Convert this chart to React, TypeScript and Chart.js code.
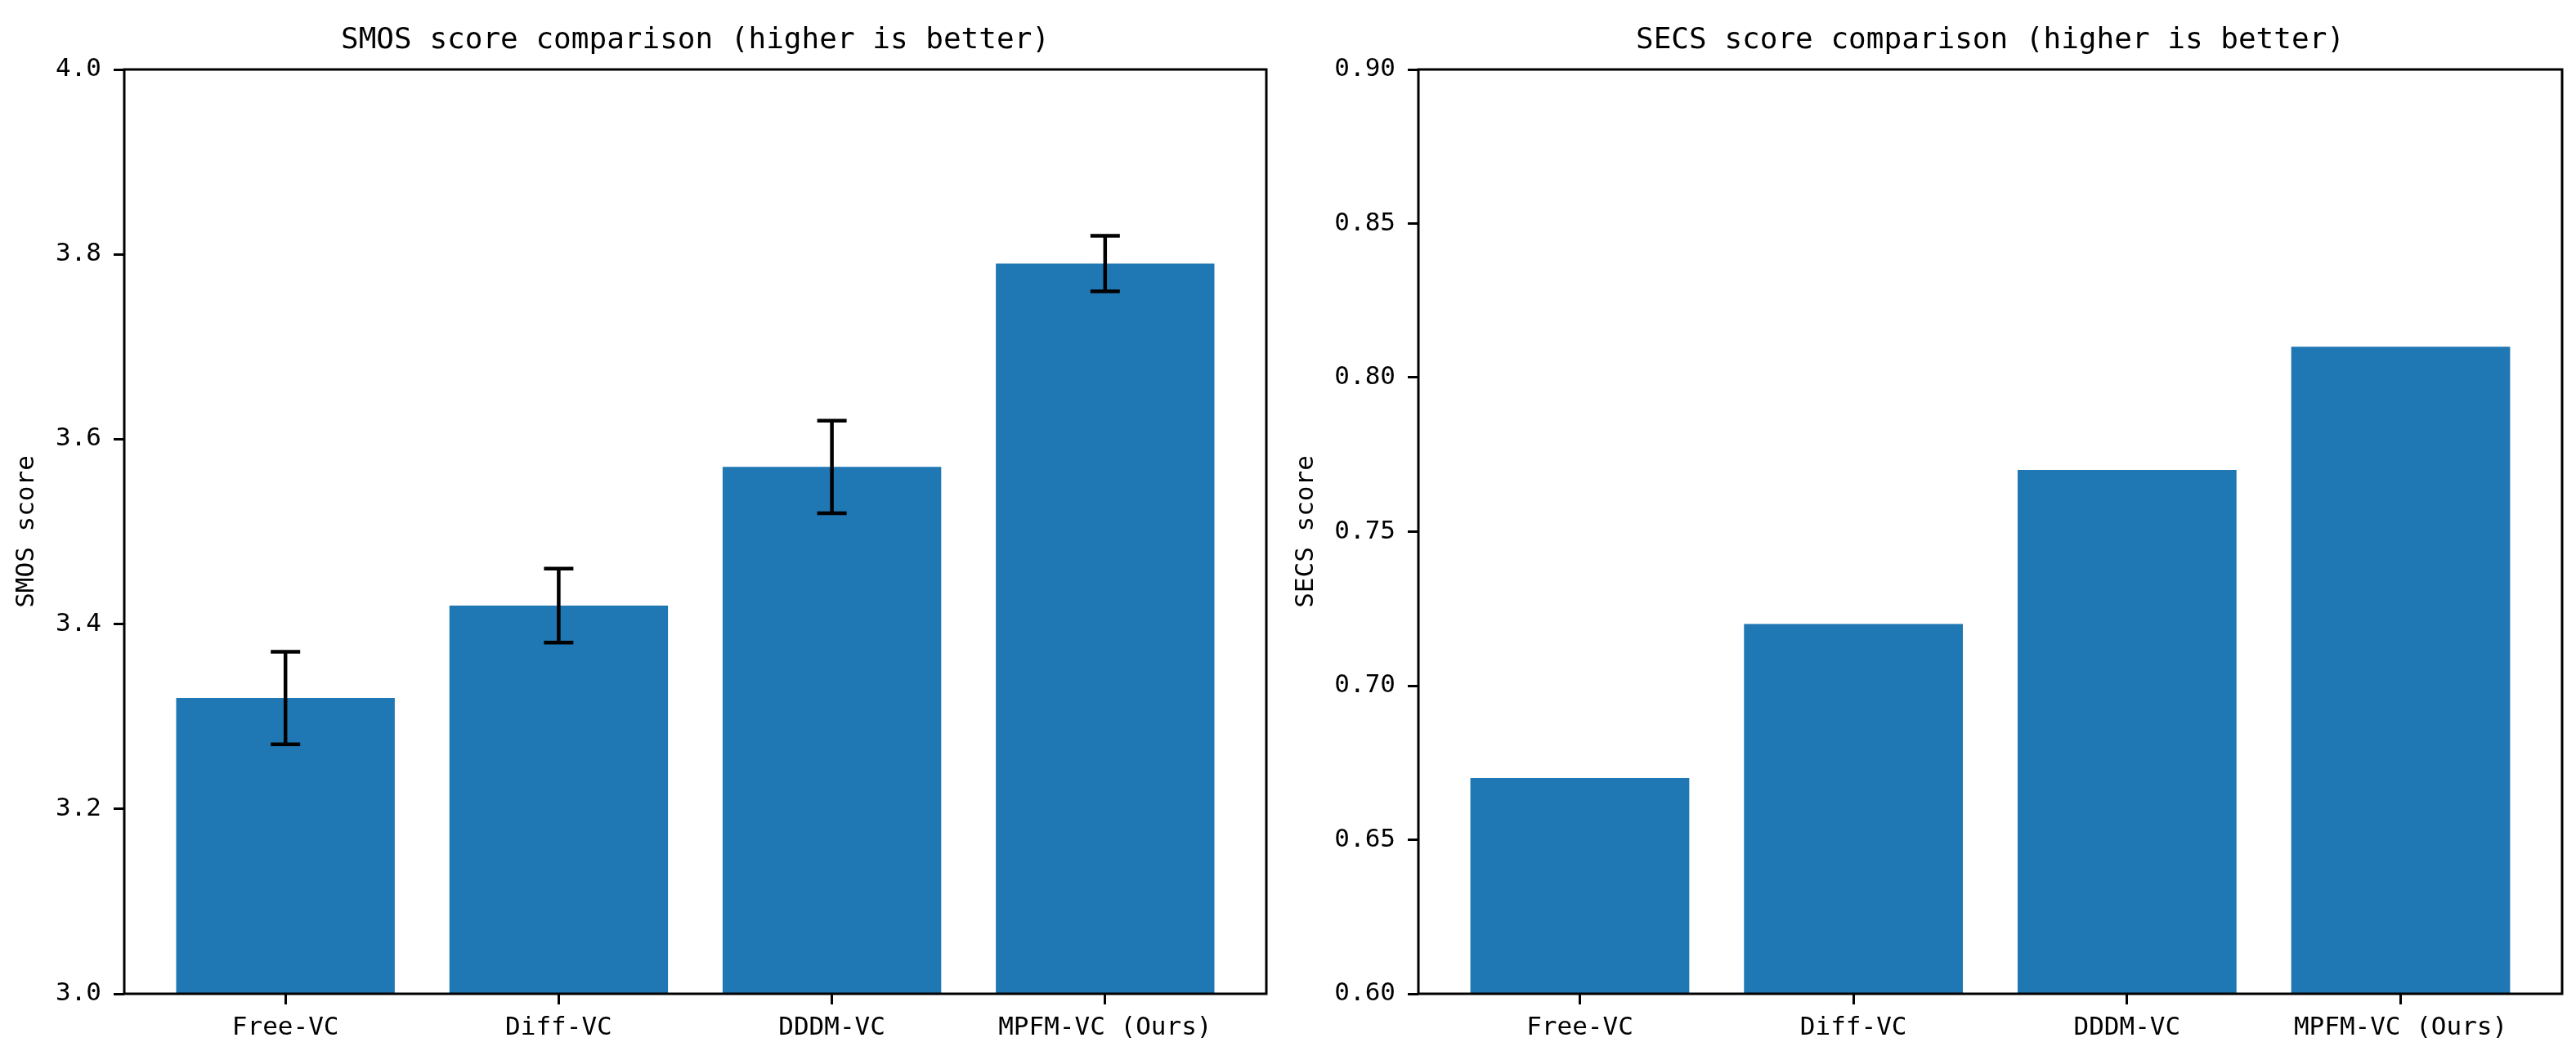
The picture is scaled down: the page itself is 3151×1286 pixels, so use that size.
import { useEffect, useRef } from 'react'
import { Chart, registerables } from 'chart.js'

Chart.register(...registerables)

const categories = ['Free-VC', 'Diff-VC', 'DDDM-VC', 'MPFM-VC (Ours)']
const smosScores = [3.32, 3.42, 3.57, 3.79]
const smosErrors = [0.05, 0.04, 0.05, 0.03]
const secsScores = [0.67, 0.72, 0.77, 0.81]
const smosTicks = [3.0, 3.2, 3.4, 3.6, 3.8, 4.0]
const secsTicks = [0.6, 0.65, 0.7, 0.75, 0.8, 0.85, 0.9]

const BLUE = '#1f77b4'
const FONT = "'DejaVu Sans Mono', monospace"

// title centred over the plot area, like matplotlib's ax.set_title
const panelTitle = {
  id: 'panelTitle',
  afterDraw(chart: any, _args: any, opts: any) {
    if (!opts || !opts.text) return
    const { ctx, chartArea } = chart
    ctx.save()
    ctx.fillStyle = '#000'
    ctx.font = `36px ${FONT}`
    ctx.textAlign = 'center'
    ctx.textBaseline = 'alphabetic'
    ctx.fillText(opts.text, (chartArea.left + chartArea.right) / 2, chartArea.top - 26)
    ctx.restore()
  },
}

// black box round the axes (all four spines)
const frame = {
  id: 'frame',
  afterDraw(chart: any) {
    const { ctx, chartArea: a } = chart
    ctx.save()
    ctx.strokeStyle = '#000'
    ctx.lineWidth = 3
    ctx.strokeRect(a.left, a.top, a.right - a.left, a.bottom - a.top)
    ctx.restore()
  },
}

const errorBars = {
  id: 'errorBars',
  afterDatasetsDraw(chart: any, _args: any, opts: any) {
    const errors: number[] | undefined = opts && opts.errors
    if (!errors) return
    const { ctx, scales } = chart
    const points = chart.data.datasets[0].data as { x: number; y: number }[]
    ctx.save()
    ctx.strokeStyle = '#000'
    ctx.lineWidth = 4.5
    points.forEach((p, i) => {
      const px = scales.x.getPixelForValue(p.x)
      const top = scales.y.getPixelForValue(p.y + errors[i])
      const bottom = scales.y.getPixelForValue(p.y - errors[i])
      ctx.beginPath()
      ctx.moveTo(px, top)
      ctx.lineTo(px, bottom)
      ctx.moveTo(px - 18, top)
      ctx.lineTo(px + 18, top)
      ctx.moveTo(px - 18, bottom)
      ctx.lineTo(px + 18, bottom)
      ctx.stroke()
    })
    ctx.restore()
  },
}

interface PanelProps {
  left: number
  width: number
  axisWidth: number
  rightPad: number
  labelPad: number
  title: string
  yTitle: string
  values: number[]
  errors?: number[]
  ticks: number[]
  decimals: number
}

function Panel({ left, width, axisWidth, rightPad, labelPad, title, yTitle, values, errors, ticks, decimals }: PanelProps) {
  const canvasRef = useRef<HTMLCanvasElement>(null)

  useEffect(() => {
    if (!canvasRef.current) return
    const tickFont = { family: FONT, size: 31 }

    const chart = new Chart(canvasRef.current, {
      type: 'bar',
      data: {
        datasets: [{
          data: values.map((v, i) => ({ x: i, y: v })),
          backgroundColor: BLUE,
          borderWidth: 0,
          barPercentage: 0.8,
          categoryPercentage: 1,
        }],
      },
      options: {
        animation: false,
        responsive: true,
        maintainAspectRatio: false,
        layout: { padding: { left: 0, right: rightPad, top: 85, bottom: 0 } },
        plugins: {
          legend: { display: false },
          tooltip: { enabled: false },
          // @ts-ignore
          panelTitle: { text: title },
          // @ts-ignore
          errorBars: { errors },
        },
        scales: {
          x: {
            type: 'linear',
            min: -0.59,
            max: categories.length - 1 + 0.59,
            offset: false,
            afterBuildTicks: (s: any) => { s.ticks = categories.map((_, i) => ({ value: i })) },
            afterFit: (s: any) => { s.height = 70 },
            ticks: {
              color: '#000',
              font: tickFont,
              padding: 10,
              maxRotation: 0,
              autoSkip: false,
              callback: (v: any) => categories[Number(v)],
            },
            grid: { offset: false, drawOnChartArea: false, tickLength: 13, tickWidth: 3, tickColor: '#000' },
            border: { display: false },
          },
          y: {
            min: ticks[0],
            max: ticks[ticks.length - 1],
            afterBuildTicks: (s: any) => { s.ticks = ticks.map(v => ({ value: v })) },
            afterFit: (s: any) => { s.width = axisWidth },
            ticks: {
              color: '#000',
              font: tickFont,
              padding: 15,
              callback: (v: any) => Number(v).toFixed(decimals),
            },
            grid: { drawOnChartArea: false, tickLength: 13, tickWidth: 3, tickColor: '#000' },
            border: { display: false },
            title: {
              display: true,
              text: yTitle,
              color: '#000',
              font: { family: FONT, size: 31 },
              padding: { top: labelPad, bottom: 0 },
            },
          },
        },
      },
      plugins: [panelTitle, frame, errorBars],
    } as any)

    return () => chart.destroy()
  }, [values, errors, ticks, title, yTitle, decimals, axisWidth, rightPad, labelPad])

  return (
    <div style={{ position: 'absolute', left, top: 0, width, height: 1286 }}>
      <canvas ref={canvasRef} />
    </div>
  )
}

export default function App() {
  return (
    <div style={{ position: 'fixed', left: 0, top: 0, width: 3151, height: 1286, background: '#fff' }}>
      <Panel
        left={0}
        width={1560}
        axisWidth={152}
        rightPad={11}
        labelPad={14}
        title="SMOS score comparison (higher is better)"
        yTitle="SMOS score"
        values={smosScores}
        errors={smosErrors}
        ticks={smosTicks}
        decimals={1}
      />
      <Panel
        left={1560}
        width={1591}
        axisWidth={175}
        rightPad={17}
        labelPad={19}
        title="SECS score comparison (higher is better)"
        yTitle="SECS score"
        values={secsScores}
        ticks={secsTicks}
        decimals={2}
      />
    </div>
  )
}
